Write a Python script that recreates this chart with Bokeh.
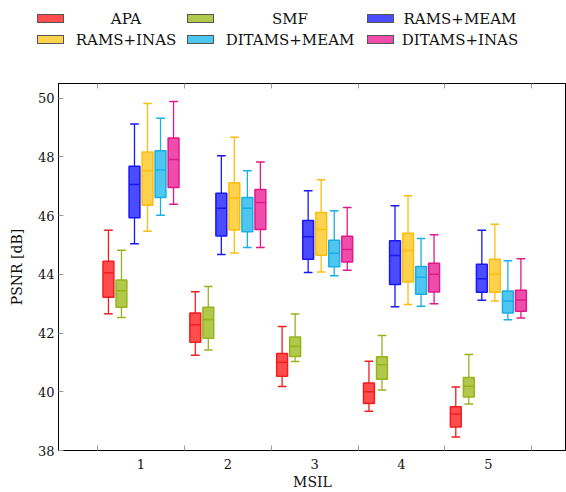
from bokeh.plotting import figure
from bokeh.models import Range1d, FixedTicker, LinearAxis, ColumnDataSource, Div
from bokeh.layouts import column
from bokeh.embed import file_html
from bokeh.resources import INLINE

# ---------------- data ----------------
groups = [1, 2, 3, 4, 5]
tick_labels = ["1", "2", "3", "4", "5"]
methods = ["APA", "SMF", "RAMS+MEAM", "RAMS+INAS", "DITAMS+MEAM", "DITAMS+INAS"]

apa_hi = [45.50, 43.41, 42.22, 41.04, 40.16]
apa_q3 = [44.45, 42.68, 41.30, 40.30, 39.49]
apa_med = [44.05, 42.28, 41.01, 40.00, 39.24]
apa_q1 = [43.22, 41.69, 40.53, 39.60, 38.80]
apa_lo = [42.66, 41.24, 40.18, 39.34, 38.46]

smf_hi = [44.82, 43.59, 42.65, 41.92, 41.27]
smf_q3 = [43.81, 42.88, 41.87, 41.19, 40.49]
smf_med = [43.44, 42.46, 41.55, 40.92, 40.19]
smf_q1 = [42.88, 41.82, 41.20, 40.43, 39.82]
smf_lo = [42.53, 41.42, 41.03, 40.06, 39.58]

rm_hi = [49.12, 48.04, 46.85, 46.34, 45.50]
rm_q3 = [47.68, 46.76, 45.83, 45.14, 44.34]
rm_med = [47.06, 46.25, 45.28, 44.64, 43.85]
rm_q1 = [45.93, 45.31, 44.51, 43.65, 43.39]
rm_lo = [45.04, 44.68, 44.06, 42.90, 43.12]

ri_hi = [49.82, 48.67, 47.22, 46.68, 45.71]
ri_q3 = [48.17, 47.12, 46.11, 45.40, 44.51]
ri_med = [47.53, 46.60, 45.53, 44.81, 44.00]
ri_q1 = [46.35, 45.51, 44.65, 43.74, 43.39]
ri_lo = [45.47, 44.73, 44.08, 42.97, 43.09]

dm_hi = [49.32, 47.53, 46.17, 45.22, 44.46]
dm_q3 = [48.21, 46.62, 45.16, 44.27, 43.43]
dm_med = [47.55, 46.25, 44.72, 43.90, 43.09]
dm_q1 = [46.62, 45.45, 44.26, 43.32, 42.68]
dm_lo = [46.01, 44.91, 43.95, 42.91, 42.45]

di_hi = [49.89, 47.83, 46.28, 45.35, 44.53]
di_q3 = [48.64, 46.89, 45.30, 44.38, 43.46]
di_med = [47.91, 46.45, 44.85, 44.00, 43.13]
di_q1 = [46.96, 45.53, 44.42, 43.40, 42.74]
di_lo = [46.39, 44.91, 44.14, 43.00, 42.51]

stats = [
    (apa_lo, apa_q1, apa_med, apa_q3, apa_hi),
    (smf_lo, smf_q1, smf_med, smf_q3, smf_hi),
    (rm_lo, rm_q1, rm_med, rm_q3, rm_hi),
    (ri_lo, ri_q1, ri_med, ri_q3, ri_hi),
    (dm_lo, dm_q1, dm_med, dm_q3, dm_hi),
    (di_lo, di_q1, di_med, di_q3, di_hi),
]

fill_colors = ["#ff4d4d", "#b0c94a", "#4b4bff", "#ffd24d", "#4dc6f0", "#f04cac"]
line_colors = ["#f01e1e", "#98b21e", "#1818f5", "#fcbc10", "#1aaee6", "#e0198a"]

FONT = "DejaVu Serif"

W = 566
LH = 70
TOTAL_H = 492

# ---------------- legend (HTML) ----------------
col_rect_left = [37, 187, 367]
col_text_center = [126, 290, 460]
row_center = [19, 40]
parts = []
for i, (name, fc) in enumerate(zip(methods, fill_colors)):
    c, r = i % 3, i // 3
    parts.append(
        f'<div style="position:absolute;left:{col_rect_left[c]}px;top:{row_center[r]-5}px;'
        f'width:27px;height:9px;background:{fc};border:1px solid #555555;"></div>')
    parts.append(
        f'<div style="position:absolute;left:{col_text_center[c]-90}px;top:{row_center[r]-10}px;'
        f'width:180px;height:20px;line-height:20px;text-align:center;color:#111111;'
        f"font-family:'DejaVu Serif',serif;font-size:15px;\">{name}</div>")
legend_html = (f'<div style="position:relative;width:{W}px;height:{LH}px;">' + "".join(parts) + "</div>")
leg = Div(text=legend_html, width=W, height=LH, margin=0)

# ---------------- main figure ----------------
p = figure(width=W, height=TOTAL_H - LH, x_range=Range1d(0.05, 5.9), y_range=Range1d(38, 50.5),
           output_backend="svg", toolbar_location=None,
           min_border_left=58, min_border_right=0, min_border_top=13, min_border_bottom=0)
p.grid.visible = False
p.outline_line_color = "black"
p.outline_line_width = 1

step = 0.15
box_w = 0.125
cap_w = 0.1
for k, (lo, q1, med, q3, hi) in enumerate(stats):
    xs = [g + (k - 2.5) * step for g in groups]
    src = ColumnDataSource(dict(x=xs, x0=[x - cap_w / 2 for x in xs], x1=[x + cap_w / 2 for x in xs],
                                bx0=[x - box_w / 2 for x in xs], bx1=[x + box_w / 2 for x in xs],
                                lo=lo, q1=q1, med=med, q3=q3, hi=hi))
    lc = line_colors[k]
    p.segment(x0="x", y0="q3", x1="x", y1="hi", line_color=lc, line_width=1.3, source=src)
    p.segment(x0="x", y0="q1", x1="x", y1="lo", line_color=lc, line_width=1.3, source=src)
    p.segment(x0="x0", y0="hi", x1="x1", y1="hi", line_color=lc, line_width=1.5, source=src)
    p.segment(x0="x0", y0="lo", x1="x1", y1="lo", line_color=lc, line_width=1.5, source=src)
    p.vbar(x="x", width=box_w, top="q3", bottom="q1", fill_color=fill_colors[k],
           line_color=lc, line_width=1.5, source=src)
    p.segment(x0="bx0", y0="med", x1="bx1", y1="med", line_color=lc, line_width=1.5, source=src)

x_ticker = FixedTicker(ticks=groups, minor_ticks=[g - 0.5 for g in groups] + [groups[-1] + 0.5])
y_ticker = FixedTicker(ticks=[38, 40, 42, 44, 46, 48, 50], minor_ticks=[])

xa = p.xaxis[0]
xa.ticker = x_ticker
xa.major_label_overrides = {g: t for g, t in zip(groups, tick_labels)}
xa.axis_label = "MSIL"

ya = p.yaxis[0]
ya.ticker = y_ticker
ya.axis_label = "PSNR [dB]"

top = LinearAxis(ticker=x_ticker, major_label_overrides={g: "" for g in groups})
p.add_layout(top, "above")

for ax in [xa, top]:
    ax.major_tick_line_color = None
    ax.minor_tick_line_color = "#9a9a9a"
    ax.minor_tick_in = 5
    ax.minor_tick_out = 0
ya.major_tick_line_color = "#9a9a9a"
ya.major_tick_in = 5
ya.major_tick_out = 0
ya.minor_tick_line_color = None
for ax in [xa, ya, top]:
    ax.axis_line_color = "black"
    ax.major_label_text_font = FONT
    ax.major_label_text_font_size = "13px"
    ax.major_label_text_color = "#111111"
    ax.axis_label_text_font = FONT
    ax.axis_label_text_font_size = "14px"
    ax.axis_label_text_font_style = "normal"
    ax.axis_label_text_color = "#111111"
top.major_label_standoff = 0
top.major_label_text_font_size = "0px"
xa.major_label_standoff = 2
xa.axis_label_standoff = 2
ya.major_label_standoff = 4
ya.axis_label_standoff = 10

layout = column(leg, p, spacing=0)
open("out.html", "w").write(file_html(layout, INLINE))
